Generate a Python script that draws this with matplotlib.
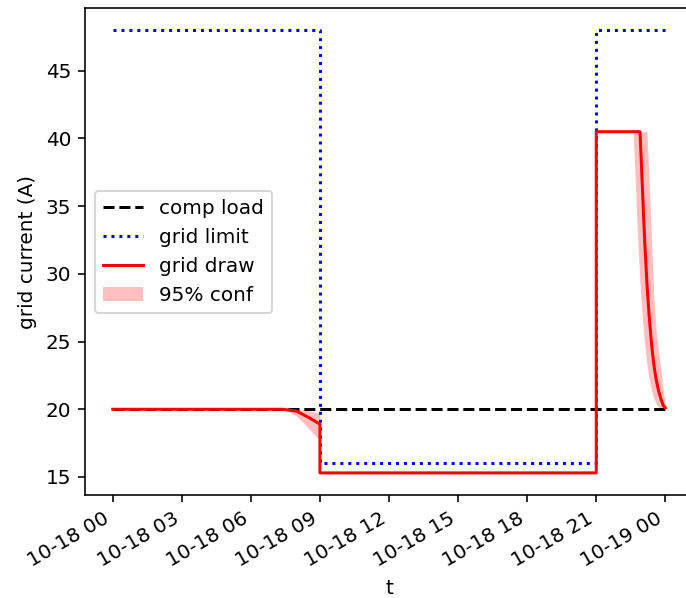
import matplotlib
matplotlib.use("Agg")
import matplotlib.pyplot as plt
import matplotlib.dates as mdates
import pandas as pd

day_start = pd.Timestamp("2023-10-18 00:00")

# hours after midnight
load_hours = [0.0, 24.0]
load_amps = [20.0, 20.0]

limit_hours = [0.0, 9.0, 9.0, 21.0, 21.0, 24.0]
limit_amps = [48.0, 48.0, 16.0, 16.0, 48.0, 48.0]

draw_hours = [0.0, 7.4, 8.0, 8.5, 9.0, 9.0, 21.0, 21.0,
              22.5, 22.6, 22.7, 22.8, 22.9, 23.0, 23.1, 23.2, 23.3,
              23.4, 23.5, 23.6, 23.7, 23.8, 23.9, 24.0]
draw_amps = [20.0, 20.0, 19.85, 19.4, 18.9, 15.3, 15.3, 40.5,
             40.5, 40.5, 40.5, 40.5, 40.5, 36.5, 32.5, 29.3, 26.8,
             24.8, 23.3, 22.2, 21.4, 20.8, 20.3, 20.1]
conf_low = [20.0, 20.0, 19.5, 18.6, 17.7, 15.3, 15.3, 40.5,
            40.5, 40.5, 36.5, 32.5, 29.3, 26.8, 24.8, 23.3, 22.2,
            21.4, 20.8, 20.4, 20.2, 20.05, 20.0, 20.0]
conf_high = [20.0, 20.0, 20.0, 19.9, 19.7, 15.3, 15.3, 40.5,
             40.5, 40.5, 40.5, 40.5, 40.5, 40.5, 40.5, 40.5, 36.5,
             32.5, 28.3, 25.8, 24.3, 23.0, 21.5, 20.3]


def to_time(hours):
    return [day_start + pd.Timedelta(hours=h) for h in hours]


dpi = 144
fig = plt.figure(figsize=(686 / dpi, 598 / dpi), dpi=dpi)
ax = fig.add_subplot(111)

ax.plot(to_time(load_hours), load_amps, "k--", label="comp load")
ax.plot(to_time(limit_hours), limit_amps, "b:", label="grid limit")
ax.plot(to_time(draw_hours), draw_amps, "r-", label="grid draw")
ax.fill_between(to_time(draw_hours), conf_low, conf_high, color="red",
                alpha=0.25, linewidth=0, label="95% conf")

ax.xaxis.set_major_locator(mdates.HourLocator(byhour=range(0, 24, 3)))
ax.xaxis.set_major_formatter(mdates.DateFormatter("%m-%d %H"))
fig.autofmt_xdate()

ax.set_xlabel("t")
ax.set_ylabel("grid current (A)")
ax.legend(loc="center left")

fig.subplots_adjust(left=0.124, right=1.0102, top=0.9866, bottom=0.1722)
fig.savefig("out.png", dpi=dpi)
